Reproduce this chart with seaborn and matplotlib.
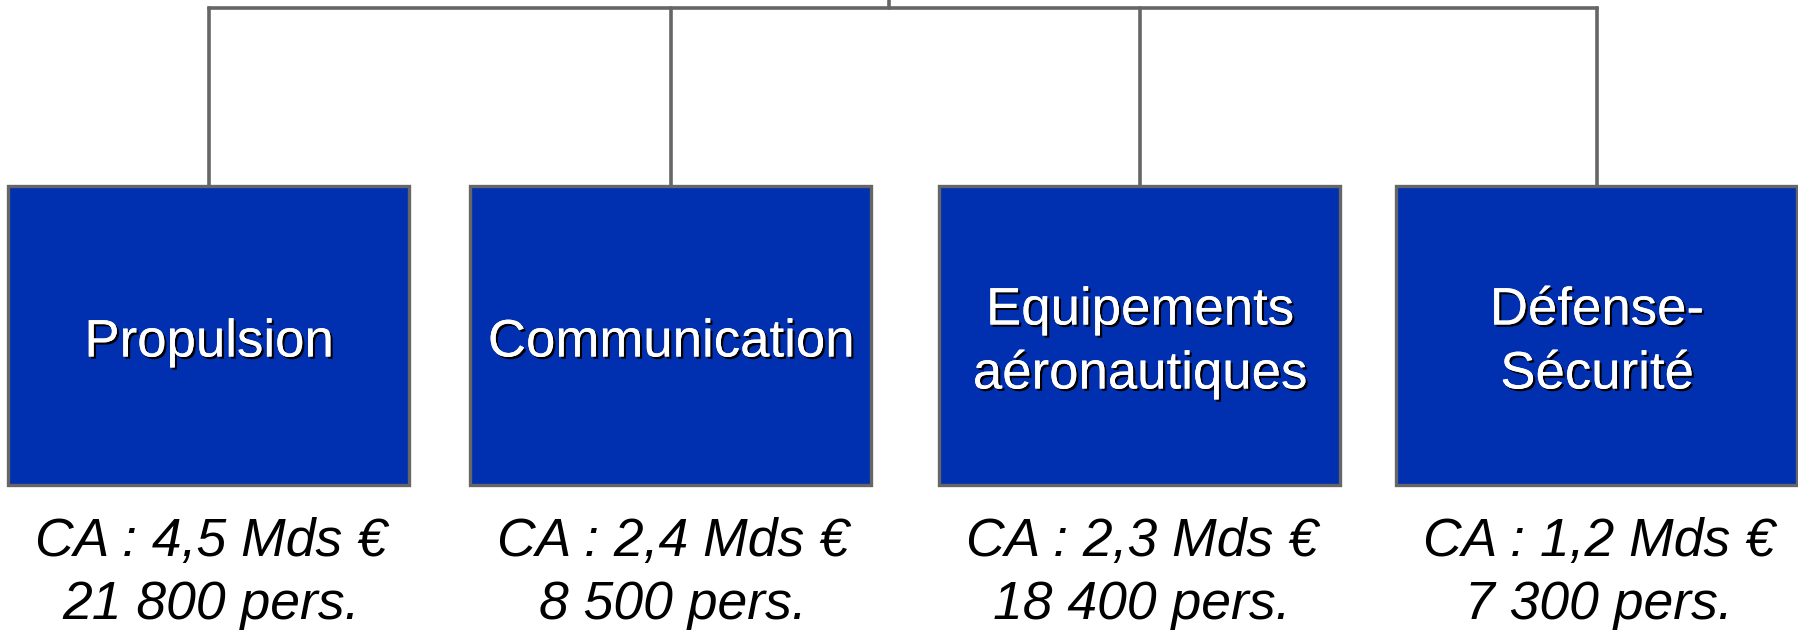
import matplotlib
matplotlib.use("Agg")
import matplotlib.pyplot as plt
import matplotlib.patheffects as pe
import seaborn as sns

# Divisions and their figures
divisions = ["Propulsion", "Communication", "Equipements\naéronautiques", "Défense-\nSécurité"]
revenue_bn = ["4,5", "2,4", "2,3", "1,2"]
staff = ["21 800", "8 500", "18 400", "7 300"]

# Layout (pixel space of the 1799x630 canvas)
W, H = 1799, 630
box_centers = [209, 671, 1140, 1597]
box_width = 401
box_top, box_bottom = 186, 485
bar_y = 8
root_x = 889

BOX_COLOR = "#0030B0"
LINE_COLOR = "#666666"

sns.set_style("white")
plt.rcParams["font.family"] = ["Liberation Sans", "DejaVu Sans"]

fig = plt.figure(figsize=(W / 100, H / 100), dpi=100)
ax = fig.add_axes([0, 0, 1, 1])
ax.set_xlim(0, W)
ax.set_ylim(H, 0)
ax.axis("off")

# connectors
ax.plot([box_centers[0], box_centers[-1]], [bar_y, bar_y], color=LINE_COLOR, lw=2.6, solid_capstyle="projecting", zorder=1)
ax.plot([root_x, root_x], [0, bar_y], color=LINE_COLOR, lw=2.6, zorder=1)
for cx in box_centers:
    ax.plot([cx, cx], [bar_y, box_top], color=LINE_COLOR, lw=2.6, zorder=1)

# boxes
ax.bar(box_centers, [box_bottom - box_top] * len(box_centers), bottom=box_top,
       width=box_width, color=BOX_COLOR, edgecolor=LINE_COLOR, linewidth=2.4, zorder=2)

shadow = [pe.withSimplePatchShadow(offset=(1.6, -1.6), shadow_rgbFace="black", alpha=1.0), pe.Normal()]
box_mid = (box_top + box_bottom) / 2
line_gap = 64

for cx, name, ca, st in zip(box_centers, divisions, revenue_bn, staff):
    lines = name.split("\n")
    n = len(lines)
    for i, txt in enumerate(lines):
        y = box_mid + 21 + (i - (n - 1) / 2) * line_gap
        ax.text(cx, y, txt, ha="center", va="baseline", fontsize=38, color="white",
                path_effects=shadow, zorder=3)
    ax.text(cx + 2, 556, f"CA : {ca} Mds €", ha="center", va="baseline", fontsize=38.5,
            style="italic", color="black", zorder=3)
    ax.text(cx + 2, 619, f"{st} pers.", ha="center", va="baseline", fontsize=38.5,
            style="italic", color="black", zorder=3)

fig.savefig("out.png", dpi=100, facecolor="white")
